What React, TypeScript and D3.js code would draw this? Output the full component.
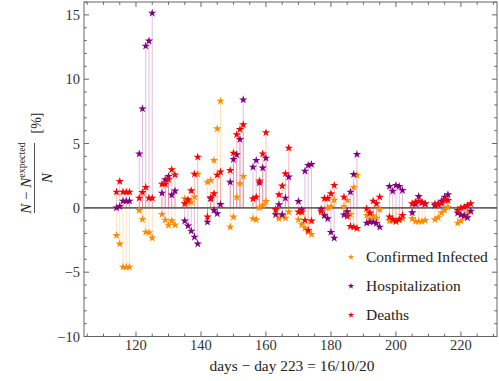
import React from "react";
import * as d3 from "d3";

const days = [
  114, 115, 116, 117, 118, 121, 122, 123, 124, 125, 128, 129, 130, 131, 132,
  135, 136, 137, 138, 139, 142, 143, 144, 145, 146, 149, 150, 151, 152, 153,
  156, 157, 158, 159, 160, 163, 164, 165, 166, 167, 170, 171, 172, 173, 174,
  177, 178, 179, 180, 181, 184, 185, 186, 187, 188, 191, 192, 193, 194, 195,
  198, 199, 200, 201, 202, 205, 206, 207, 208, 209, 212, 213, 214, 215, 216,
  219, 220, 221, 222, 223,
];

const confirmed = [
  -2.14, -2.8, -4.6, -4.6, -4.6, -0.19, -0.89, -1.88, -1.93, -2.34,
  -0.5, -0.95, -1.35, -1.0, -1.33, 0.71, 0.45, 0.45, 0.86, 2.62,
  2.0, 2.14, 3.69, 6.15, 8.3, -1.49, -0.71, 0.84, 1.88, 2.45,
  -0.84, -0.92, 0.01, 0.19, 0.5, -0.2, -0.85, -0.65, -0.8, -0.32,
  -0.92, -1.3, -1.57, -1.88, -2.06, -0.35, -0.55, 0.0, 0.1, 0.6,
  0.1, 0.58, -0.5, 1.6, 2.53, -0.58, -0.9, -0.6, -0.79, -0.14,
  -1.0, -1.0, -1.05, -0.95, -0.84, -0.84, -1.05, -1.05, -1.05, -0.97,
  -0.92, -0.76, -0.4, -0.19, 0.06, -1.18, -1.02, -0.71, -0.4, -0.3,
];

const hospitalization = [
  0.0, 0.12, 0.53, 0.53, 0.53, 4.2, 7.7, 12.58, 12.97, 15.14,
  1.15, 2.2, 2.45, 1.0, 1.31, -1.02, -1.4, -1.8, -2.27, -2.8,
  -1.1, 0.71, -0.19, -0.45, 0.27, 2.0, 3.77, 4.13, 5.32, 8.4,
  3.17, 3.69, 1.95, 3.1, 3.87, -0.53, 0.25, -0.53, 0.76, 2.4,
  0.5, -0.14, 2.86, 3.3, 3.38, -0.1, -0.6, -0.84, -1.9, -2.35,
  -0.55, -0.3, 1.23, 2.6, 4.16, -1.18, -1.1, -1.1, -1.2, -1.49,
  1.67, 1.3, 1.75, 1.67, 1.36, -0.38, 0.3, 0.89, 0.4, 0.3,
  0.19, 0.3, 0.53, 0.84, 1.02, -0.4, -0.55, -0.6, -0.76, -0.25,
];

const deaths = [
  1.23, 2.06, 1.23, 1.23, 1.23, 0.76, 1.2, 1.6, 0.76, 0.76,
  1.85, 1.85, 2.2, 2.97, 2.57, 0.32, 0.63, 1.33, 2.62, 3.95,
  -0.71, 0.8, 1.1, 2.55, 2.8, 2.91, 4.26, 5.69, 6.1, 6.46,
  0.71, 0.84, 2.1, 4.2, 5.85, -0.12, 1.02, 1.7, 2.66, 4.65,
  -0.32, -0.32, -0.97, -1.75, -1.02, -0.25, 0.73, 0.73, 1.1, 1.75,
  0.84, -0.66, -1.44, -1.5, -1.6, -0.06, -0.4, 0.53, 0.32, 0.84,
  -0.71, -0.9, -1.05, -0.9, -0.58, 0.32, 0.45, 0.53, 0.45, 0.32,
  0.3, 0.25, 0.35, 0.63, 0.58, -0.2, 0.0, 0.06, 0.19, 0.32,
];

const seriesNames = ["Confirmed Infected", "Hospitalization", "Deaths"];
const seriesColors = ["#FF8C00", "#800080", "#FF0000"];
const xMajorTicks = [120, 140, 160, 180, 200, 220];
const yMajorTicks = [-10, -5, 0, 5, 10, 15];

const W = 499;
const H = 381;
const L = 84;
const R = 497;
const T = 2;
const B = 336.5;
const FONT = "'Liberation Serif', 'Times New Roman', serif";

export default function App() {
  const x = d3.scaleLinear().domain([104, 231.1]).range([L, R]);
  const y = d3.scaleLinear().domain([-10, 16]).range([B, T]);
  const allSeries = [confirmed, hospitalization, deaths];
  const star = d3.symbol().type(d3.symbolStar).size(22)();
  const legendStar = d3.symbol().type(d3.symbolStar).size(12)();

  const xMinor = d3.range(105, 231, 5).filter((v) => v % 20 !== 0);
  const yMinor = d3.range(-10, 17, 1).filter((v) => v % 5 !== 0);
  const tickColor = "#666";

  return (
    <svg
      width={W}
      height={H}
      style={{ position: "absolute", left: 0, top: 0, background: "#fff" }}
      fontFamily={FONT}
    >
      {allSeries.map((vals, si) =>
        vals.map((v, i) => (
          <line
            key={`s${si}-${i}`}
            x1={x(days[i])}
            x2={x(days[i])}
            y1={y(0)}
            y2={y(v)}
            stroke={seriesColors[si]}
            strokeOpacity={0.25}
            strokeWidth={1}
          />
        ))
      )}
      <line x1={L} x2={R} y1={y(0)} y2={y(0)} stroke="#666" strokeWidth={1.6} />
      {allSeries.map((vals, si) =>
        vals.map((v, i) => (
          <path
            key={`p${si}-${i}`}
            d={star}
            transform={`translate(${x(days[i])},${y(v)})`}
            fill={seriesColors[si]}
          />
        ))
      )}
      <rect x={L} y={T} width={R - L} height={B - T} fill="none" stroke={tickColor} strokeWidth={1} />
      {xMajorTicks.map((t) => (
        <g key={`xt${t}`}>
          <line x1={x(t)} x2={x(t)} y1={B} y2={B - 5} stroke={tickColor} />
          <line x1={x(t)} x2={x(t)} y1={T} y2={T + 5} stroke={tickColor} />
          <text x={x(t)} y={350} textAnchor="middle" fontSize={14.5} fill="#333">
            {t}
          </text>
        </g>
      ))}
      {xMinor.map((t) => (
        <g key={`xm${t}`}>
          <line x1={x(t)} x2={x(t)} y1={B} y2={B - 2.8} stroke={tickColor} />
          <line x1={x(t)} x2={x(t)} y1={T} y2={T + 2.8} stroke={tickColor} />
        </g>
      ))}
      {yMajorTicks.map((t) => (
        <g key={`yt${t}`}>
          <line x1={L} x2={L + 5} y1={y(t)} y2={y(t)} stroke={tickColor} />
          <line x1={R} x2={R - 5} y1={y(t)} y2={y(t)} stroke={tickColor} />
          <text x={80} y={y(t) + 5} textAnchor="end" fontSize={14.5} fill="#333">
            {t < 0 ? `\u2212${Math.abs(t)}` : t}
          </text>
        </g>
      ))}
      {yMinor.map((t) => (
        <g key={`ym${t}`}>
          <line x1={L} x2={L + 2.8} y1={y(t)} y2={y(t)} stroke={tickColor} />
          <line x1={R} x2={R - 2.8} y1={y(t)} y2={y(t)} stroke={tickColor} />
        </g>
      ))}
      <text x={292} y={371} textAnchor="middle" fontSize={15.4} fill="#222">
        days {"\u2212"} day 223 = 16/10/20
      </text>
      <g transform="translate(34.5,178) rotate(-90)" fill="#222">
        <line x1={-35} x2={35} y1={0} y2={0} stroke="#222" strokeWidth={0.8} />
        <text x={0} y={-3.5} textAnchor="middle" fontSize={15}>
          <tspan fontStyle="italic">N</tspan>
          <tspan>{" \u2212 "}</tspan>
          <tspan fontStyle="italic">N</tspan>
          <tspan fontSize={10} dy={-6}>expected</tspan>
        </text>
        <text x={0} y={17} textAnchor="middle" fontSize={15} fontStyle="italic">
          N
        </text>
        <text x={55} y={6.5} textAnchor="middle" fontSize={14}>
          [%]
        </text>
      </g>
      {seriesNames.map((name, i) => (
        <g key={name} transform={`translate(0,${257 + i * 29})`}>
          <path d={legendStar} transform="translate(351,0)" fill={seriesColors[i]} />
          <text x={366} y={5} fontSize={15.5} fill="#222">
            {name}
          </text>
        </g>
      ))}
    </svg>
  );
}
